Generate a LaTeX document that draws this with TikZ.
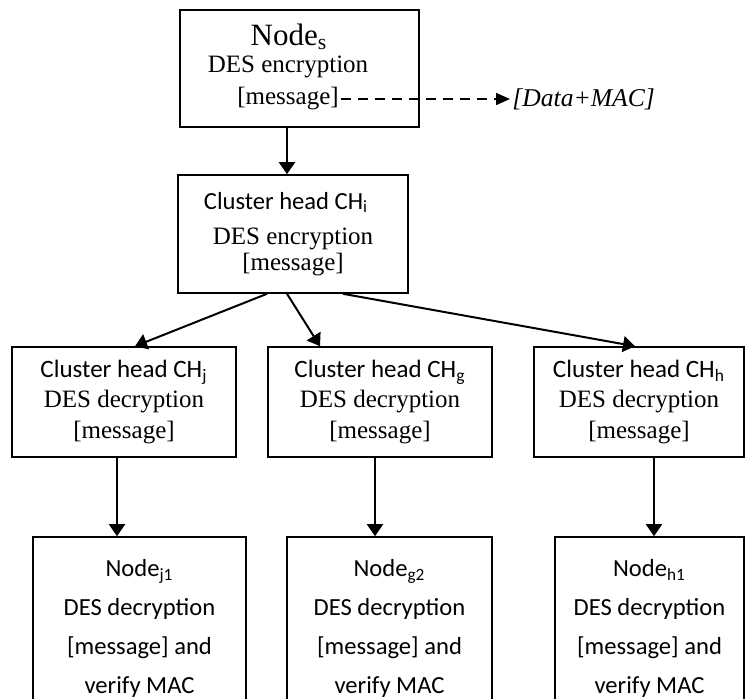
\documentclass[tikz,border=0pt]{standalone}
\usepackage{fontspec}
\setmainfont{Liberation Serif}
\newfontfamily\calibri{Carlito}
\usetikzlibrary{arrows.meta}

\begin{document}
\begin{tikzpicture}[x=0.5pt,y=-0.5pt,
    box/.style={draw,line width=0.8pt,inner sep=0pt,align=center},
    arr/.style={line width=1pt,-{Triangle[length=6pt,width=8pt]}},
    dasharr/.style={line width=0.8pt,dash pattern=on 5pt off 3.5pt,-{Triangle[length=7pt,width=6pt]}},
    serif/.style={font=\fontsize{12.5}{15.25}\selectfont},
    sans/.style={font=\calibri\fontsize{12.3}{19.5}\selectfont}]
  \useasboundingbox (0,0) rectangle (745,698);
  \clip (0,0) rectangle (745,698);
  % sending node
  \node[box,minimum width=119.5pt,minimum height=58.5pt] (ns) at (299.5,68.5) {};
  \node[font=\fontsize{15.5}{18}\selectfont] (nsname) at (289,37) {Node\textsubscript{s}};
  \node[serif] (nsop) at (288,67) {DES encryption};
  \node[serif,inner sep=1pt] (nsmsg) at (288,99) {[message]};
  \node[serif,font=\itshape\fontsize{12.8}{15}\selectfont,inner sep=1pt,anchor=west] (mac) at (510,99) {[Data+MAC]};
  % cluster heads
  \node[box,serif,minimum width=115pt,minimum height=59pt,font=\fontsize{12.5}{13}\selectfont] (chi) at (293,234)
    {{\calibri\fontsize{12.3}{13}\selectfont Cluster head CH\textsubscript{i}\hspace*{7pt}}\\[4.5pt] DES encryption\\ {[message]}};
  \node[box,serif,minimum width=112pt,minimum height=55pt] (chj) at (124,402)
    {{\calibri Cluster head CH\textsubscript{j}}\\ DES decryption\\ {[message]}};
  \node[box,serif,minimum width=112pt,minimum height=55pt] (chg) at (380,402)
    {{\calibri Cluster head CH\textsubscript{g}}\\ DES decryption\\ {[message]}};
  \node[box,serif,minimum width=105pt,minimum height=55pt] (chh) at (639,402)
    {{\calibri Cluster head CH\textsubscript{h}}\\ DES decryption\\ {[message]}};
  % receiving nodes
  \node[box,sans,minimum width=106.5pt,minimum height=91.5pt] (nj) at (139.5,628.5)
    {Node\textsubscript{j1}\\ DES decryption\\ {[message] and}\\ verify MAC};
  \node[box,sans,minimum width=102.5pt,minimum height=91.5pt] (ng) at (389.5,628.5)
    {Node\textsubscript{g2}\\ DES decryption\\ {[message] and}\\ verify MAC};
  \node[box,sans,minimum width=94.5pt,minimum height=91.5pt] (nh) at (649.5,628.5)
    {Node\textsubscript{h1}\\ DES decryption\\ {[message] and}\\ verify MAC};
  % connectors
  \draw[dasharr] (nsmsg.east) -- (mac.west);
  \draw[arr] ([xshift=-6.25pt]ns.south) -- ([xshift=-6.25pt]ns.south |- chi.north);
  \draw[arr] ([xshift=-13pt]chi.south) -- ([xshift=5.5pt]chj.north);
  \draw[arr] ([xshift=-3pt]chi.south) -- ([xshift=-30pt]chg.north);
  \draw[arr] ([xshift=25pt]chi.south) -- ([xshift=-2pt]chh.north);
  \draw[arr] ([xshift=-3.5pt]chj.south) -- ([xshift=-3.5pt]chj.south |- nj.north);
  \draw[arr] ([xshift=-2.5pt]chg.south) -- ([xshift=-2.5pt]chg.south |- ng.north);
  \draw[arr] ([xshift=7.5pt]chh.south) -- ([xshift=7.5pt]chh.south |- nh.north);
\end{tikzpicture}
\end{document}
